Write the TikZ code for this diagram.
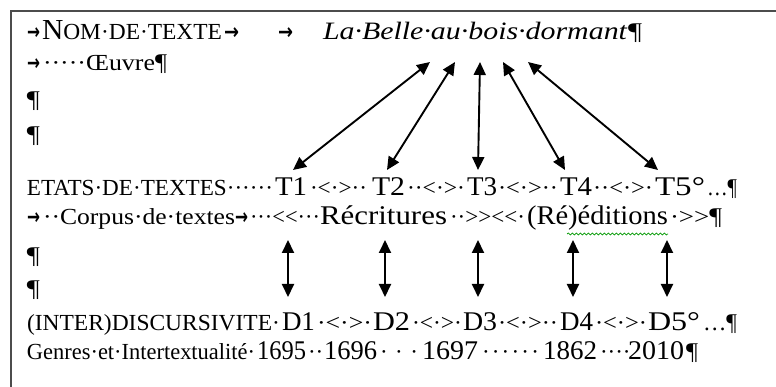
\documentclass[tikz,border=0pt]{standalone}
\usepackage{fontspec}
\usepackage{graphicx}
\setmainfont{Liberation Serif}
\newfontfamily\dvs{DejaVu Sans}
\usetikzlibrary{arrows.meta,decorations.pathmorphing}
\newcommand{\fs}[1]{\fontsize{#1}{#1}\selectfont}
\newcommand{\rb}[2]{\resizebox{#1pt}{\height}{#2}}
\newcommand{\spreadbox}[2]{\makebox[#1pt][s]{#2}}
\newcommand{\tabm}{{\dvs\bfseries\fs{22}→}}
\newcommand{\pil}{{\fs{24}¶}}
\newcommand{\lt}{<\kern0pt}
\newcommand{\gt}{>\kern0pt}
\tikzset{
  txt/.style={anchor=base west, inner sep=0pt, outer sep=0pt, font=\fs{23}, text=black},
  big/.style={txt, font=\fs{27}},
  dbl/.style={{Triangle[length=13pt,width=12pt]}-{Triangle[length=13pt,width=12pt]}, line width=1.9pt, black},
  frame/.style={line width=1.6pt, black!70},
  squig/.style={green!60!black, line width=0.7pt, decorate, decoration={snake, amplitude=1pt, segment length=4pt}}
}
\begin{document}
\begin{tikzpicture}[x=1pt, y=-1pt]
\useasboundingbox[fill=white] (0,0) rectangle (776,387);
\draw[frame] (11,390) -- (11,11) -- (780,11);

% row 1
\node[txt] (tab1) at (27,40) {\rb{13}{\tabm}};
\node[txt] (nom) at (42,40) {\rb{180}{\fs{29}N\fs{23}OM·DE·TEXTE}};
\node[txt] (tab2) at (224,40) {\rb{15}{\tabm}};
\node[txt] (tab3) at (278,40) {\rb{15}{\tabm}};
\node[txt] (titre) at (323,40) {\rb{304}{\fs{25}\itshape La·Belle·au·bois·dormant}};
\node[txt] (p1) at (628,40) {\rb{14}{\pil}};
% row 2
\node[txt] (tab4) at (27,71) {\rb{13}{\tabm}};
\node[txt] (oeuvre) at (43,71) {\rb{112}{·····Œuvre}};
\node[txt] (p2) at (155,71) {\rb{12}{\pil}};
% rows 3-4
\node[txt] (p3) at (27,108) {\rb{13}{\pil}};
\node[txt] (p4) at (27,143) {\rb{13}{\pil}};

% row T
\node[txt] (etats) at (27,196) {\rb{246}{ETATS·DE·TEXTES······}};
\node[big] (T1) at (275,196) {\rb{32}{T1}};
\node[txt] (s1) at (310,196) {\rb{57}{·\lt·\gt··}};
\node[big] (T2) at (372,196) {\rb{33}{T2}};
\node[txt] (s2) at (407,196) {\rb{58}{··\lt·\gt·}};
\node[big] (T3) at (467,196) {\rb{30}{T3}};
\node[txt] (s3) at (498,196) {\rb{60}{·\lt·\gt··}};
\node[big] (T4) at (560,196) {\rb{32}{T4}};
\node[txt] (s4) at (593,196) {\rb{60}{··\lt·\gt·}};
\node[big] (T5) at (655,196) {\rb{50}{T5°}};
\node[txt] (e5) at (707,196) {\rb{30}{\fs{24}…¶}};

% row corpus
\node[txt] (tab5) at (27,225) {\rb{13}{\tabm}};
\node[txt] (corpus) at (43,225) {\rb{192}{··Corpus·de·textes}};
\node[txt] (tab6) at (235,225) {\rb{13}{\tabm}};
\node[txt] (c1) at (250,225) {\rb{70}{···\lt\lt···}};
\node[big] (recrit) at (320,225) {\rb{127}{Récritures}};
\node[txt] (c2) at (450,225) {\rb{75}{··\gt\gt\lt\lt·}};
\node[big] (edit) at (527,225) {\rb{141}{(Ré)éditions}};
\node[txt] (c3) at (670,225) {\rb{52}{·\gt\gt\pil}};
\draw[squig] (567,234) -- (668,234);

% rows 7-8
\node[txt] (p7) at (27,264) {\rb{13}{\pil}};
\node[txt] (p8) at (27,296) {\rb{13}{\pil}};

% row D
\node[txt] (inter) at (27,330) {\rb{253}{(INTER)DISCURSIVITE·}};
\node[big] (D1) at (282,330) {\rb{33}{D1}};
\node[txt] (d1) at (317,330) {\rb{55}{·\lt·\gt·}};
\node[big] (D2) at (373,330) {\rb{37}{D2}};
\node[txt] (d2) at (412,330) {\rb{50}{·\lt·\gt·}};
\node[big] (D3) at (463,330) {\rb{34}{D3}};
\node[txt] (d3) at (498,330) {\rb{60}{·\lt·\gt··}};
\node[big] (D4) at (560,330) {\rb{33}{D4}};
\node[txt] (d4) at (595,330) {\rb{52}{·\lt·\gt·}};
\node[big] (D5) at (648,330) {\rb{52}{D5°}};
\node[txt] (e6) at (703,330) {\rb{34}{\fs{24}…¶}};

% row genres
\node[txt] (genres) at (27,359) {\rb{228}{Genres·et·Intertextualité·}};
\node[big] (y1) at (257,359) {\rb{49}{1695}};
\node[txt] (g1) at (308,359) {\spreadbox{12}{·\hfil·}};
\node[big] (y2) at (324,359) {\rb{53}{1696}};
\node[txt] (g2) at (380,359) {\spreadbox{38}{·\hfil·\hfil·}};
\node[big] (y3) at (422,359) {\rb{56}{1697}};
\node[txt] (g3) at (482,359) {\spreadbox{57}{·\hfil·\hfil·\hfil·\hfil·\hfil·}};
\node[big] (y4) at (543,359) {\rb{54}{1862}};
\node[txt] (g4) at (600,359) {\spreadbox{25}{·\hfil·\hfil·\hfil·}};
\node[big] (y5) at (628,359) {\rb{56}{2010}};
\node[txt] (p9) at (686,359) {\rb{12}{\pil}};

% arrow end points
\foreach \i/\ux/\lx in {1/430/293, 2/455/387, 3/480/478, 4/503/565, 5/528/658}{
  \coordinate (u\i) at (\ux,62);
  \coordinate (l\i) at (\lx,170);
}
\foreach \i/\vx in {1/288, 2/385, 3/478, 4/573, 5/667}{
  \coordinate (va\i) at (\vx,240);
  \coordinate (vb\i) at (\vx,297);
}
\foreach \i in {1,...,5}{
  \draw[dbl] (l\i) -- (u\i);
  \draw[dbl] (va\i) -- (vb\i);
}
\end{tikzpicture}
\end{document}
